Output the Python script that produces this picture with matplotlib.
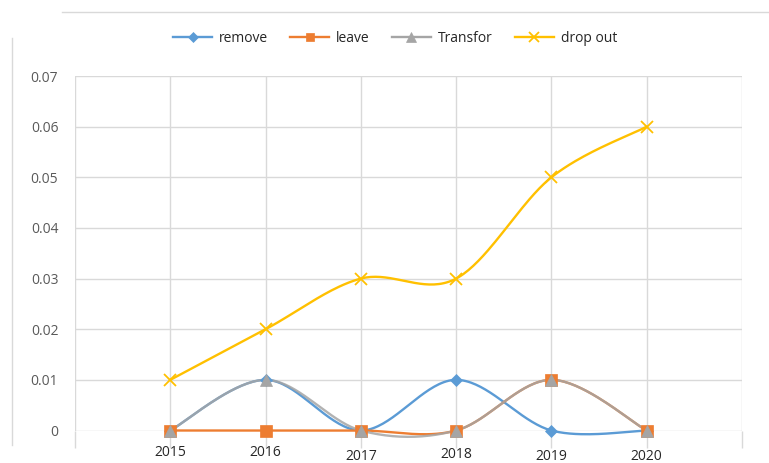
import numpy as np
import matplotlib.pyplot as plt
from matplotlib.lines import Line2D

years = ['2015', '2016', '2017', '2018', '2019', '2020']
remove = [0, 0.01, 0, 0.01, 0, 0]
leave = [0, 0, 0, 0, 0.01, 0]
transfor = [0, 0.01, 0, 0, 0.01, 0]
drop_out = [0.01, 0.02, 0.03, 0.03, 0.05, 0.06]

series_names = ['remove', 'leave', 'Transfor', 'drop out']

GRID = '#d9d9d9'
TEXT = '#595959'


def smooth(x, y, n=40):
    """Excel-like smoothed line: cubic Bezier segments with Catmull-Rom control points."""
    pts = np.column_stack([x, y]).astype(float)
    pts = np.vstack([pts[0], pts, pts[-1]])
    out = []
    for i in range(1, len(pts) - 2):
        p0, p1, p2, p3 = pts[i - 1], pts[i], pts[i + 1], pts[i + 2]
        c1 = p1 + (p2 - p0) / 6
        c2 = p2 - (p3 - p1) / 6
        t = np.linspace(0, 1, n)[:, None]
        seg = (1 - t) ** 3 * p1 + 3 * (1 - t) ** 2 * t * c1 + 3 * (1 - t) * t ** 2 * c2 + t ** 3 * p2
        out.append(seg if i == 1 else seg[1:])
    out = np.vstack(out)
    return out[:, 0], out[:, 1]


fig = plt.figure(figsize=(7.69, 4.63), dpi=100)
plt.rcParams['font.family'] = ['Open Sans', 'DejaVu Sans']
ax = fig.add_axes([75 / 769, 1 - 430.5 / 463, (742 - 75) / 769, (430.5 - 76) / 463])

x = np.arange(1, len(years) + 1)
styles = [
    (remove, '#5b9bd5', 'D', 6.5, 1.0),
    (leave, '#ed7d31', 's', 8, 1.0),
    (transfor, '#a5a5a5', '^', 8.5, 0.85),
    (drop_out, '#ffc000', 'x', 8.5, 1.0),
]
handles = []
for (vals, color, marker, ms, alpha), name in zip(styles, series_names):
    sx, sy = smooth(x, vals)
    ax.plot(sx, sy, color=color, lw=1.7, alpha=alpha, solid_capstyle='round', zorder=3,
            clip_on=False)
    ax.plot(x, vals, linestyle='none', marker=marker, ms=ms, color=color,
            mew=1.3 if marker == 'x' else 0.5, zorder=4, clip_on=False)
    handles.append(Line2D([], [], color=color, lw=1.7, marker=marker, ms=ms * 0.8,
                          mew=1.3 if marker == 'x' else 0.5))

ax.set_xlim(0, 7)
ax.set_ylim(0, 0.07)
ax.set_yticks(np.arange(0, 0.071, 0.01))
ax.set_yticklabels(['0'] + ['%.2f' % v for v in np.arange(0.01, 0.071, 0.01)])
ax.set_xticks(np.arange(0, 8))
ax.set_xticklabels([])
ax.tick_params(axis='x', length=12, color=GRID, width=1)
ax.tick_params(axis='y', length=0, pad=12, labelsize=10, labelcolor=TEXT)
ax.grid(True, color=GRID, lw=1)
for s in ax.spines.values():
    s.set_visible(False)

# year labels under the gridlines (slightly uneven, as in the source image)
label_dy = [0, 0, 3, 1, 3, 4]
for xi, yr, dy in zip(x, years, label_dy):
    ax.annotate(yr, (xi, 0), xytext=(0, -15 - dy), textcoords='offset pixels',
                ha='center', va='top', fontsize=10, color='#262626')

fig.legend(handles, series_names, loc='center', bbox_to_anchor=(395 / 769, 1 - 38 / 463),
           ncol=4, frameon=False, fontsize=10, handlelength=2.8, columnspacing=1.6,
           labelcolor='#262626', handletextpad=0.5)

# cropped chart border fragments
fig.add_artist(Line2D([62 / 769, 1], [1 - 11.5 / 463] * 2, color=GRID, lw=1))
fig.add_artist(Line2D([12 / 769] * 2, [1 - 38 / 463, 1 - 445 / 463], color=GRID, lw=1))

fig.savefig('out.png', dpi=100)
